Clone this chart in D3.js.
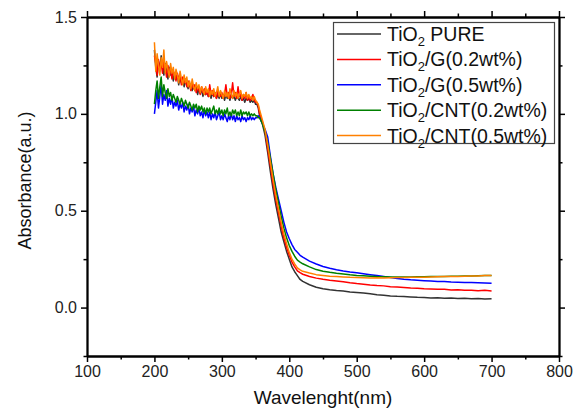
<!DOCTYPE html>
<html>
<head>
<meta charset="utf-8">
<script src="https://cdn.jsdelivr.net/npm/d3@7"></script>
<style>
  body { margin: 0; background: #fff; }
  svg { display: block; font-family: "Liberation Sans", Arial, sans-serif; }
  .axis path, .axis line { stroke: #000; }
  .axis text { font-size: 16px; fill: #222; }
</style>
</head>
<body>
<script>
// wavelength grid (nm): every 2 nm in the noisy UV part, coarser after the edge
const wavelength = [
  200, 202, 204, 206, 208, 210, 212, 214, 216, 218, 220, 222, 224, 226, 228, 230, 232, 234, 236, 238,
  240, 242, 244, 246, 248, 250, 252, 254, 256, 258, 260, 262, 264, 266, 268, 270, 272, 274, 276, 278,
  280, 282, 284, 286, 288, 290, 292, 294, 296, 298, 300, 302, 304, 306, 308, 310, 312, 314, 316, 318,
  320, 322, 324, 326, 328, 330, 332, 334, 336, 338, 340, 342, 344, 346, 348, 350, 352, 354,
  356, 360, 364, 368, 372, 376, 380, 384, 388, 392, 396, 400, 404, 408, 412, 416, 420,
  430, 440, 450, 460, 470, 480, 490, 500, 510, 520, 530, 540, 550, 560, 570, 580, 590, 600,
  610, 620, 630, 640, 650, 660, 670, 680, 690, 700
];

const pure = [
  1.33, 1.24, 1.19, 1.27, 1.22, 1.30, 1.25, 1.20, 1.26, 1.22, 1.18, 1.24, 1.20, 1.22, 1.17, 1.21, 1.18, 1.20, 1.15, 1.19,
  1.16, 1.18, 1.14, 1.17, 1.15, 1.13, 1.16, 1.14, 1.12, 1.15, 1.12, 1.14, 1.10, 1.13, 1.11, 1.12, 1.09, 1.12, 1.10, 1.11,
  1.09, 1.11, 1.08, 1.11, 1.09, 1.10, 1.08, 1.10, 1.08, 1.11, 1.08, 1.10, 1.07, 1.10, 1.08, 1.09, 1.07, 1.10, 1.08, 1.09,
  1.07, 1.09, 1.08, 1.07, 1.09, 1.07, 1.08, 1.06, 1.08, 1.07, 1.08, 1.06, 1.07, 1.06, 1.07, 1.05, 1.05, 1.03,
  0.99, 0.95, 0.89, 0.80, 0.70, 0.61, 0.53, 0.46, 0.39, 0.34, 0.29, 0.25, 0.21, 0.185, 0.165, 0.145, 0.135,
  0.118, 0.105, 0.097, 0.092, 0.088, 0.085, 0.081, 0.078, 0.075, 0.071, 0.066, 0.064, 0.060, 0.058, 0.057, 0.055, 0.053, 0.052,
  0.050, 0.051, 0.048, 0.049, 0.047, 0.048, 0.045, 0.047, 0.044, 0.046
];

const g02 = [
  1.30, 1.26, 1.20, 1.28, 1.23, 1.26, 1.21, 1.27, 1.24, 1.19, 1.25, 1.21, 1.23, 1.18, 1.22, 1.20, 1.17, 1.21, 1.18, 1.20,
  1.15, 1.19, 1.16, 1.18, 1.14, 1.17, 1.15, 1.12, 1.16, 1.13, 1.15, 1.11, 1.14, 1.12, 1.10, 1.14, 1.11, 1.13, 1.10, 1.12,
  1.09, 1.15, 1.10, 1.12, 1.09, 1.11, 1.08, 1.12, 1.10, 1.09, 1.11, 1.08, 1.10, 1.15, 1.09, 1.11, 1.08, 1.10, 1.16, 1.09,
  1.11, 1.08, 1.14, 1.09, 1.10, 1.07, 1.10, 1.08, 1.11, 1.07, 1.09, 1.07, 1.08, 1.10, 1.07, 1.06, 1.06, 1.04,
  1.00, 0.96, 0.91, 0.82, 0.73, 0.64, 0.56, 0.49, 0.42, 0.36, 0.31, 0.27, 0.235, 0.21, 0.19, 0.18, 0.172,
  0.160, 0.152, 0.146, 0.141, 0.137, 0.133, 0.128, 0.124, 0.121, 0.117, 0.114, 0.112, 0.108, 0.106, 0.104, 0.101, 0.100, 0.097,
  0.096, 0.094, 0.094, 0.091, 0.092, 0.089, 0.090, 0.087, 0.089, 0.086
];

const g05 = [
  1.00, 1.06, 1.12, 1.03, 1.09, 1.15, 1.05, 1.10, 1.07, 1.12, 1.04, 1.08, 1.05, 1.09, 1.03, 1.06, 1.04, 1.07, 1.02, 1.05,
  1.03, 1.06, 1.01, 1.04, 1.02, 1.05, 1.00, 1.03, 1.01, 1.04, 0.99, 1.02, 1.00, 1.03, 0.99, 1.01, 0.98, 1.02, 0.99, 1.01,
  0.98, 1.01, 0.97, 1.00, 0.98, 1.01, 0.97, 0.99, 1.01, 0.97, 0.99, 0.97, 1.00, 0.98, 0.96, 0.99, 0.97, 1.00, 0.97, 0.99,
  0.96, 0.99, 0.97, 0.98, 0.96, 0.99, 0.97, 0.98, 0.96, 0.98, 0.97, 0.99, 0.97, 0.98, 0.97, 0.98, 0.98, 0.99,
  0.98, 0.95, 0.92, 0.88, 0.78, 0.69, 0.62, 0.56, 0.50, 0.44, 0.39, 0.355, 0.325, 0.30, 0.285, 0.27, 0.26,
  0.240, 0.225, 0.212, 0.203, 0.195, 0.189, 0.184, 0.180, 0.175, 0.170, 0.165, 0.160, 0.155, 0.150, 0.146, 0.143, 0.141, 0.139,
  0.137, 0.135, 0.134, 0.132, 0.131, 0.130, 0.129, 0.128, 0.127, 0.126
];

const cnt02 = [
  1.05, 1.12, 1.17, 1.08, 1.14, 1.19, 1.09, 1.15, 1.11, 1.08, 1.13, 1.09, 1.11, 1.07, 1.10, 1.08, 1.06, 1.09, 1.07, 1.05,
  1.08, 1.06, 1.04, 1.07, 1.05, 1.03, 1.06, 1.04, 1.02, 1.05, 1.03, 1.05, 1.01, 1.04, 1.02, 1.04, 1.01, 1.03, 1.00, 1.03,
  1.01, 1.03, 1.00, 1.02, 1.04, 1.00, 1.02, 1.00, 1.03, 1.00, 1.02, 0.99, 1.02, 1.00, 1.03, 0.99, 1.01, 0.99, 1.02, 1.00,
  1.02, 0.99, 1.01, 0.99, 1.02, 0.99, 1.01, 1.00, 1.01, 0.99, 1.01, 0.99, 1.00, 0.99, 1.00, 0.99, 0.99, 0.98,
  0.98, 0.95, 0.91, 0.85, 0.77, 0.69, 0.61, 0.54, 0.47, 0.41, 0.36, 0.32, 0.29, 0.265, 0.245, 0.235, 0.226,
  0.210, 0.196, 0.188, 0.182, 0.177, 0.173, 0.169, 0.166, 0.164, 0.162, 0.160, 0.159, 0.158, 0.158, 0.158, 0.158, 0.159, 0.159,
  0.160, 0.160, 0.161, 0.162, 0.162, 0.163, 0.163, 0.164, 0.165, 0.165
];

const cnt05 = [
  1.37, 1.22, 1.31, 1.25, 1.20, 1.29, 1.24, 1.33, 1.21, 1.27, 1.23, 1.19, 1.26, 1.21, 1.24, 1.18, 1.23, 1.20, 1.16, 1.22,
  1.18, 1.15, 1.20, 1.16, 1.19, 1.14, 1.17, 1.13, 1.18, 1.14, 1.12, 1.16, 1.13, 1.15, 1.11, 1.14, 1.12, 1.10, 1.14, 1.11,
  1.13, 1.09, 1.12, 1.10, 1.13, 1.09, 1.11, 1.14, 1.09, 1.12, 1.10, 1.08, 1.12, 1.09, 1.11, 1.08, 1.13, 1.10, 1.08, 1.12,
  1.09, 1.11, 1.08, 1.10, 1.12, 1.08, 1.10, 1.09, 1.11, 1.08, 1.10, 1.08, 1.09, 1.07, 1.09, 1.07, 1.06, 1.05,
  1.02, 0.97, 0.92, 0.84, 0.75, 0.66, 0.58, 0.51, 0.44, 0.38, 0.33, 0.285, 0.25, 0.225, 0.205, 0.195, 0.187,
  0.178, 0.170, 0.166, 0.162, 0.160, 0.158, 0.156, 0.155, 0.154, 0.153, 0.154, 0.153, 0.154, 0.155, 0.155, 0.156, 0.157, 0.157,
  0.158, 0.159, 0.160, 0.160, 0.161, 0.162, 0.163, 0.163, 0.165, 0.166
];

const seriesNames = ['PURE', '/G(0.2wt%)', '/G(0.5wt%)', '/CNT(0.2wt%)', '/CNT(0.5wt%)'];
const seriesValues = [pure, g02, g05, cnt02, cnt05];
const seriesColors = ['#333333', '#ff0000', '#0000ff', '#008000', '#ff8000'];

const xTicks = [100, 200, 300, 400, 500, 600, 700, 800];
const xMinor = [150, 250, 350, 450, 550, 650, 750];
const yTicks = [0, 0.5, 1.0, 1.5];
const yMinor = [-0.25, 0.25, 0.75, 1.25];

const W = 577, H = 411;
const plotLeft = 87, plotRight = 559, plotTop = 17, plotBottom = 356;

const svg = d3.select('body').append('svg')
  .attr('width', W)
  .attr('height', H);

const x = d3.scaleLinear().domain([100, 800]).range([plotLeft, plotRight]);
const y = d3.scaleLinear().domain([-0.25, 1.5]).range([plotBottom, plotTop]);

// curves, first drawn ends up underneath
const line = d3.line()
  .x((d, i) => x(wavelength[i]))
  .y(d => y(d));

svg.append('g')
  .selectAll('path')
  .data(seriesValues)
  .enter().append('path')
  .attr('d', d => line(d))
  .attr('fill', 'none')
  .attr('stroke', (d, i) => seriesColors[i])
  .attr('stroke-width', 1.5)
  .attr('stroke-linejoin', 'round');

// frame with outward ticks on all four sides
const major = 6, minor = 3.5;

const addAxis = (axis, transform, labels) => {
  const g = svg.append('g').attr('class', 'axis').attr('transform', transform).call(axis);
  g.select('.domain').attr('stroke-width', 1.8);
  g.selectAll('.tick line').attr('stroke-width', 1.5);
  if (!labels) g.selectAll('text').remove();
  return g;
};

addAxis(d3.axisBottom(x).tickValues(xTicks).tickSize(major).tickSizeOuter(0).tickPadding(4).tickFormat(d3.format('d')),
  `translate(0,${plotBottom})`, true);
addAxis(d3.axisBottom(x).tickValues(xMinor).tickSize(minor).tickSizeOuter(0), `translate(0,${plotBottom})`, false);
addAxis(d3.axisTop(x).tickValues(xTicks).tickSize(major).tickSizeOuter(0), `translate(0,${plotTop})`, false);
addAxis(d3.axisTop(x).tickValues(xMinor).tickSize(minor).tickSizeOuter(0), `translate(0,${plotTop})`, false);

addAxis(d3.axisLeft(y).tickValues(yTicks).tickSize(major).tickSizeOuter(0).tickPadding(4).tickFormat(d3.format('.1f')),
  `translate(${plotLeft},0)`, true);
addAxis(d3.axisLeft(y).tickValues(yMinor).tickSize(minor).tickSizeOuter(0), `translate(${plotLeft},0)`, false);
addAxis(d3.axisRight(y).tickValues(yTicks).tickSize(major).tickSizeOuter(0), `translate(${plotRight},0)`, false);
addAxis(d3.axisRight(y).tickValues(yMinor).tickSize(minor).tickSizeOuter(0), `translate(${plotRight},0)`, false);

// axis titles
svg.append('text')
  .attr('x', (plotLeft + plotRight) / 2)
  .attr('y', 404)
  .attr('text-anchor', 'middle')
  .style('font-size', '19px')
  .attr('fill', '#111')
  .text('Wavelenght(nm)');

svg.append('text')
  .attr('transform', `translate(31,${(plotTop + plotBottom) / 2 - 6}) rotate(-90)`)
  .attr('text-anchor', 'middle')
  .style('font-size', '18px')
  .attr('fill', '#111')
  .text('Absorbance(a.u.)');

// legend
const legend = svg.append('g');
legend.append('rect')
  .attr('x', 333.5).attr('y', 22.5)
  .attr('width', 221).attr('height', 121)
  .attr('fill', '#fff')
  .attr('stroke', '#444')
  .attr('stroke-width', 1.2);

const rowY = i => 34 + i * 25.4;

seriesNames.forEach((name, i) => {
  legend.append('line')
    .attr('x1', 337).attr('x2', 381)
    .attr('y1', rowY(i)).attr('y2', rowY(i))
    .attr('stroke', seriesColors[i])
    .attr('stroke-width', 1.5);
  const t = legend.append('text')
    .attr('x', 387)
    .attr('y', rowY(i) + 7)
    .style('font-size', '19.5px')
    .attr('fill', '#111');
  t.append('tspan').text('TiO');
  t.append('tspan').attr('dy', 5).style('font-size', '13px').text('2');
  t.append('tspan').attr('dy', -5).text(i === 0 ? '\u00a0' + name : name);
});
</script>
</body>
</html>
